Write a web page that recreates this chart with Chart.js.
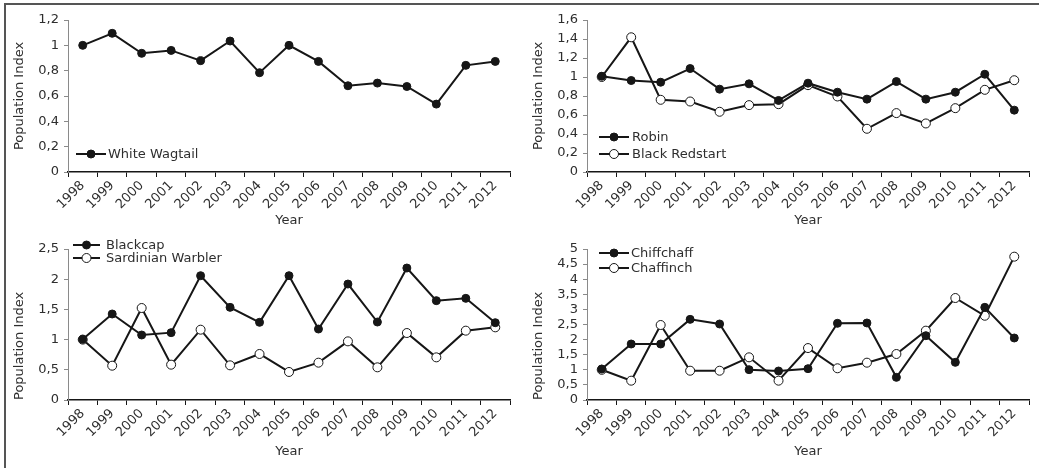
<!DOCTYPE html>
<html>
<head>
<meta charset="utf-8">
<script src="https://cdn.jsdelivr.net/npm/chart.js@4/dist/chart.umd.min.js"></script>
<style>
  html, body { margin: 0; padding: 0; background: #fff; }
  #wrap { position: relative; width: 1039px; height: 468px; overflow: hidden; }
  #frame { position: absolute; left: 4px; top: 3px; right: -10px; bottom: -10px;
           border-left: 2px solid #555; border-top: 2px solid #555; }
  canvas { position: absolute; }
</style>
</head>
<body>
<div id="wrap">
  <div id="frame"></div>
  <canvas id="c1" width="519" height="234" style="left:0;top:0"></canvas>
  <canvas id="c2" width="520" height="234" style="left:519px;top:0"></canvas>
  <canvas id="c3" width="519" height="234" style="left:0;top:234px"></canvas>
  <canvas id="c4" width="520" height="234" style="left:519px;top:234px"></canvas>
</div>
<script>
const years = ['1998', '1999', '2000', '2001', '2002', '2003', '2004', '2005',
               '2006', '2007', '2008', '2009', '2010', '2011', '2012'];

const whiteWagtail = [1.0, 1.095, 0.937, 0.96, 0.879, 1.034, 0.784, 1.0, 0.873, 0.681, 0.702, 0.675, 0.536, 0.842, 0.873];
const robin        = [1.008, 0.963, 0.945, 1.089, 0.872, 0.928, 0.753, 0.935, 0.84, 0.767, 0.952, 0.767, 0.84, 1.029, 0.651];
const blackRedstart = [1.0, 1.418, 0.76, 0.742, 0.634, 0.704, 0.714, 0.914, 0.795, 0.455, 0.62, 0.511, 0.672, 0.865, 0.966];
const blackcap     = [1.004, 1.424, 1.076, 1.115, 2.058, 1.534, 1.286, 2.058, 1.175, 1.92, 1.291, 2.185, 1.645, 1.683, 1.28];
const sardinian    = [1.0, 0.568, 1.523, 0.585, 1.164, 0.574, 0.762, 0.464, 0.618, 0.971, 0.541, 1.109, 0.706, 1.148, 1.203];
const chiffchaff   = [1.026, 1.854, 1.854, 2.67, 2.517, 1.004, 0.96, 1.037, 2.539, 2.55, 0.75, 2.13, 1.247, 3.068, 2.053];
const chaffinch    = [1.0, 0.64, 2.483, 0.97, 0.97, 1.413, 0.64, 1.72, 1.05, 1.236, 1.523, 2.296, 3.377, 2.79, 4.746];

const yMax  = [1.2, 1.6, 2.5, 5];
const yStep = [0.2, 0.2, 0.5, 0.5];

const ink = '#161616';
const textColor = '#2e2e2e';
const fontFamily = '"DejaVu Sans", Verdana, sans-serif';

Chart.defaults.font.family = fontFamily;
Chart.defaults.font.size = 13;
Chart.defaults.color = textColor;

// filled / open marker styles
const filled = (label, data) => ({
  label, data, borderColor: ink, borderWidth: 2,
  pointRadius: 4, pointBackgroundColor: ink, pointBorderColor: ink, pointBorderWidth: 1
});
const open = (label, data) => ({
  label, data, borderColor: ink, borderWidth: 2,
  pointRadius: 4.5, pointBackgroundColor: '#fff', pointBorderColor: ink, pointBorderWidth: 1
});

// legend drawn inside the plot: line segment with marker, then the label
const lineLegend = {
  id: 'lineLegend',
  afterDraw(chart, args, opts) {
    const ctx = chart.ctx;
    chart.data.datasets.forEach((ds, i) => {
      const y = opts.rows[i];
      ctx.save();
      ctx.strokeStyle = ds.borderColor;
      ctx.lineWidth = ds.borderWidth;
      ctx.beginPath();
      ctx.moveTo(opts.x, y);
      ctx.lineTo(opts.x + opts.len, y);
      ctx.stroke();
      ctx.beginPath();
      ctx.arc(opts.x + opts.len / 2, y, ds.pointRadius, 0, Math.PI * 2);
      ctx.fillStyle = ds.pointBackgroundColor;
      ctx.fill();
      ctx.lineWidth = ds.pointBorderWidth;
      ctx.strokeStyle = ds.pointBorderColor;
      ctx.stroke();
      ctx.fillStyle = textColor;
      ctx.font = '13px ' + fontFamily;
      ctx.textBaseline = 'middle';
      ctx.textAlign = 'left';
      ctx.fillText(ds.label, opts.textX, y + 1);
      ctx.restore();
    });
  }
};

function makeChart(id, datasets, idx, pad, legend) {
  new Chart(document.getElementById(id), {
    type: 'line',
    data: { labels: years, datasets },
    plugins: [lineLegend],
    options: {
      responsive: false,
      animation: false,
      devicePixelRatio: 1,
      layout: { padding: { left: 0, right: pad.right, top: pad.top, bottom: 0 } },
      elements: { line: { tension: 0 } },
      plugins: {
        legend: { display: false },
        tooltip: { enabled: false },
        lineLegend: legend
      },
      scales: {
        x: {
          offset: true,
          grid: { display: true, drawOnChartArea: false, offset: true, tickLength: 5, color: ink, lineWidth: 1 },
          border: { color: ink, width: 1.5 },
          ticks: { autoSkip: false, minRotation: 45, maxRotation: 45, padding: 1 },
          title: { display: true, text: 'Year', padding: { top: 0, bottom: pad.titleBottom } },
          afterFit: s => { s.height = pad.xHeight; }
        },
        y: {
          min: 0, max: yMax[idx],
          grid: { display: true, drawOnChartArea: false, tickLength: 4, color: '#8a8a8a' },
          border: { color: '#8a8a8a', width: 1 },
          ticks: {
            stepSize: yStep[idx], padding: 5, autoSkip: false,
            callback: v => String(+v.toFixed(1)).replace('.', ',')
          },
          title: { display: true, text: 'Population Index', align: pad.titleAlign,
                   padding: { top: 12, bottom: 0 } },
          afterFit: s => { s.width = 68; }
        }
      }
    }
  });
}

const topPad = { right: 9, top: 20, xHeight: 62, titleBottom: 6, titleAlign: 'center' };
const botPad = { right: 9, top: 15, xHeight: 68, titleBottom: 9, titleAlign: 'start' };

makeChart('c1', [filled('White Wagtail', whiteWagtail)], 0, topPad,
  { x: 76, len: 30, textX: 108, rows: [154] });
makeChart('c2', [filled('Robin', robin), open('Black Redstart', blackRedstart)], 1,
  Object.assign({}, topPad, { right: 10 }),
  { x: 80, len: 30, textX: 113, rows: [137, 154] });
makeChart('c3', [filled('Blackcap', blackcap), open('Sardinian Warbler', sardinian)], 2, botPad,
  { x: 73, len: 27, textX: 106, rows: [11, 24] });
makeChart('c4', [filled('Chiffchaff', chiffchaff), open('Chaffinch', chaffinch)], 3,
  Object.assign({}, botPad, { right: 10 }),
  { x: 80, len: 30, textX: 112, rows: [19, 34] });
</script>
</body>
</html>
